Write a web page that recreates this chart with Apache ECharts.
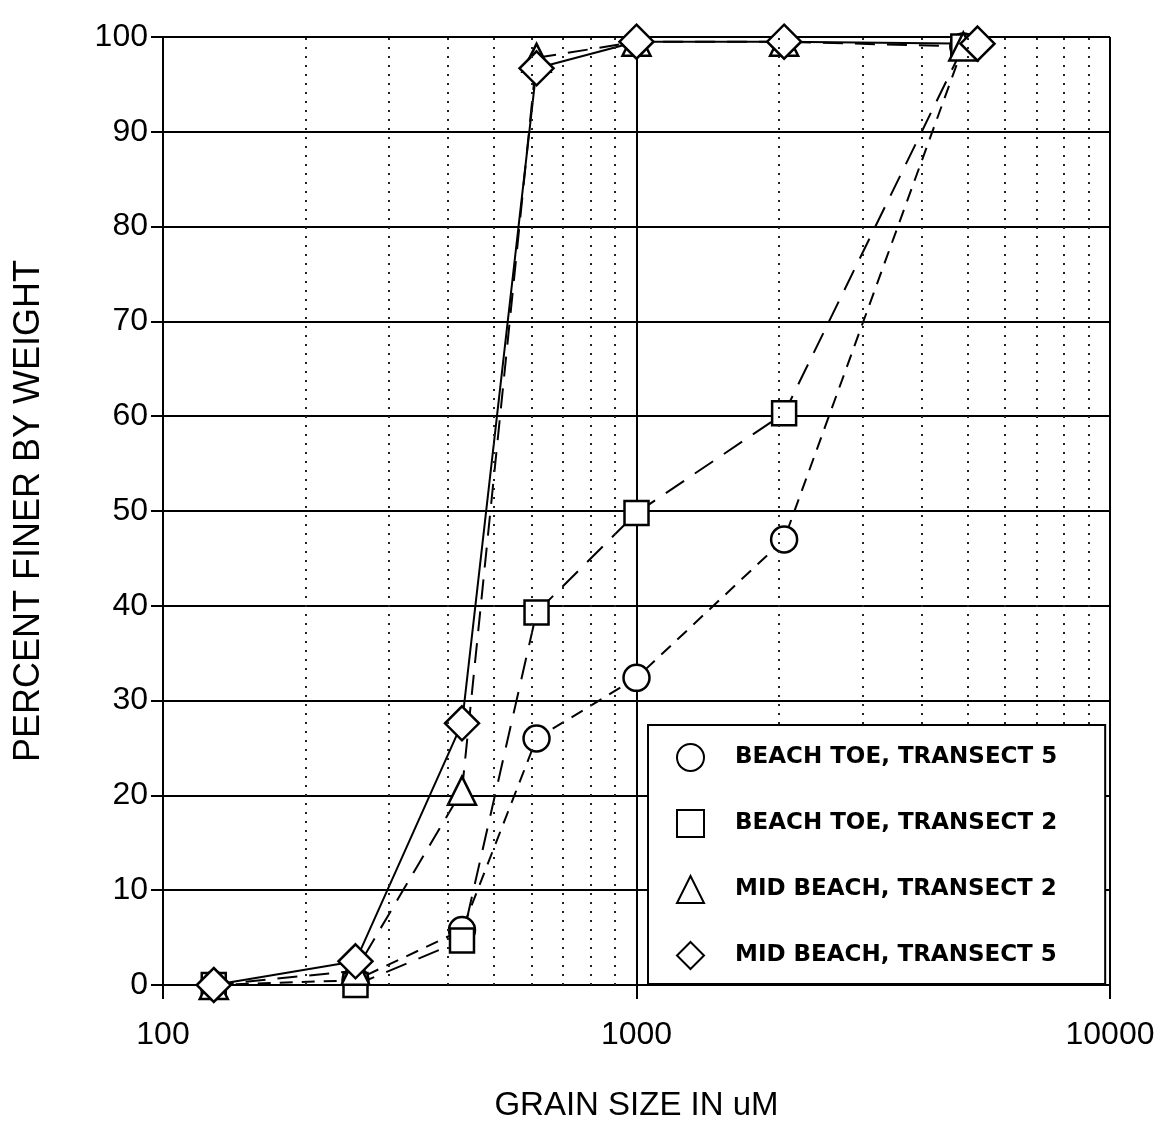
<!DOCTYPE html>
<html>
<head>
<meta charset="utf-8">
<script src="https://cdn.jsdelivr.net/npm/echarts@6/dist/echarts.min.js"></script>
<style>
  html, body { margin: 0; padding: 0; background: #fff; }
  #chart { width: 1167px; height: 1135px; }
</style>
</head>
<body>
<div id="chart"></div>
<script>
// sieve sizes (uM) as plotted, and percent finer for each sample
var sizes = [128, 255, 428, 615, 1000, 2050, 4900];
var sizesMid5 = [128, 255, 428, 615, 1000, 2050, 5250];
var toeT5 = [0, 0.5, 5.8, 26, 32.4, 47, 99];
var toeT2 = [0, 0, 4.7, 39.3, 49.8, 60.3, 99];
var midT2 = [0, 1.5, 20.5, 97.8, 99.5, 99.5, 99];
var midT5 = [0, 2.5, 27.6, 96.7, 99.5, 99.5, 99.3];
// dotted minor gridlines on the log axis
var minorX = [200, 300, 400, 500, 600, 700, 800, 900, 2000, 3000, 4000, 5000, 6000, 7000, 8000, 9000];
var xTicks = [100, 1000, 10000];
var names = ["BEACH TOE, TRANSECT 5", "BEACH TOE, TRANSECT 2", "MID BEACH, TRANSECT 2", "MID BEACH, TRANSECT 5"];

function pairs(xs, ys) {
  return xs.map(function (x, i) { return [x, ys[i]]; });
}

var myChart = echarts.init(document.getElementById("chart"));
var font = "Liberation Sans";

function curve(name, xs, ys, symbol, size, dash) {
  return {
    name: name,
    type: "line",
    data: pairs(xs, ys),
    symbol: symbol,
    symbolSize: size,
    lineStyle: { color: "#000", width: 2, type: dash },
    itemStyle: { color: "#fff", borderColor: "#000", borderWidth: 2.5 },
    emphasis: { disabled: true },
    z: 3
  };
}

var option = {
  animation: false,
  backgroundColor: "#fff",
  grid: { left: 163, right: 57, top: 37, bottom: 150, containLabel: false },
  xAxis: {
    type: "log",
    logBase: 10,
    min: 100,
    max: 10000,
    name: "GRAIN SIZE IN uM",
    nameLocation: "middle",
    nameGap: 104,
    nameTextStyle: { fontFamily: font, fontSize: 33, color: "#000" },
    axisLine: { lineStyle: { color: "#000", width: 2 } },
    axisTick: { show: true, length: 14, lineStyle: { color: "#000", width: 2 } },
    axisLabel: {
      fontFamily: font, fontSize: 32, color: "#000", margin: 34,
      formatter: function (v) { return xTicks.indexOf(v) >= 0 ? String(v) : ""; }
    },
    splitLine: { show: true, lineStyle: { color: "#000", width: 2 } }
  },
  yAxis: {
    type: "value",
    min: 0,
    max: 100,
    interval: 10,
    name: "PERCENT FINER BY WEIGHT",
    nameLocation: "middle",
    nameGap: 116,
    nameTextStyle: { fontFamily: font, fontSize: 36, color: "#000" },
    axisLine: { show: true, lineStyle: { color: "#000", width: 2 } },
    axisTick: { show: true, length: 12, lineStyle: { color: "#000", width: 2 } },
    axisLabel: { fontFamily: font, fontSize: 32, color: "#000", margin: 15 },
    splitLine: { show: true, lineStyle: { color: "#000", width: 2 } }
  },
  legend: {
    data: [
      { name: names[0], icon: "circle" },
      { name: names[1], icon: "rect" },
      { name: names[2], icon: "triangle" },
      { name: names[3], icon: "diamond" }
    ],
    orient: "vertical",
    left: 648,
    top: 725,
    itemWidth: 27,
    itemHeight: 27,
    itemGap: 37,
    padding: [18, 48, 14, 28],
    backgroundColor: "#fff",
    borderColor: "#000",
    borderWidth: 2,
    selectedMode: false,
    itemStyle: { color: "#fff", borderColor: "#000", borderWidth: 2 },
    lineStyle: { width: 0 },
    textStyle: { fontFamily: "DejaVu Sans", fontWeight: "bold", fontSize: 23, color: "#000", padding: [0, 0, 0, 26] },
    z: 10
  },
  series: [
    {
      name: "minor",
      type: "line",
      data: [],
      silent: true,
      markLine: {
        silent: true,
        symbol: "none",
        label: { show: false },
        lineStyle: { color: "#222", width: 2, type: [2, 7] },
        data: minorX.map(function (v) { return { xAxis: v }; })
      },
      z: 1
    },
    curve(names[0], sizes, toeT5, "circle", 26, [13, 9]),
    curve(names[1], sizes, toeT2, "rect", 24, [22, 13]),
    curve(names[2], sizes, midT2, "triangle", 28, [20, 12]),
    curve(names[3], sizesMid5, midT5, "diamond", 34, "solid")
  ]
};

myChart.setOption(option);
</script>
</body>
</html>
